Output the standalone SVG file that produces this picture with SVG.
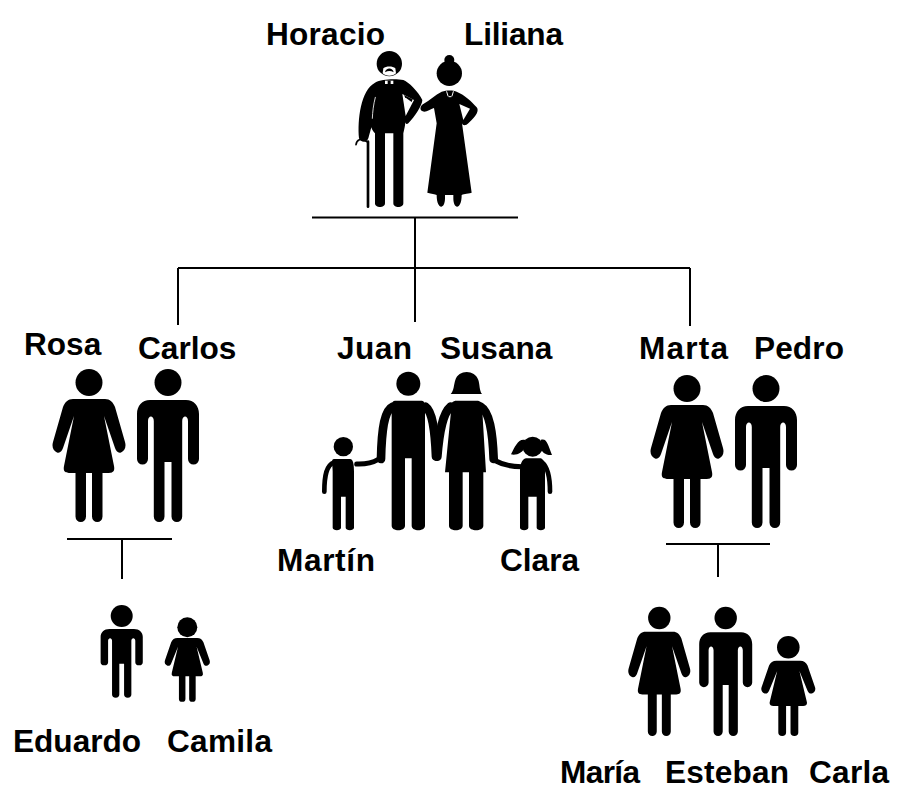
<svg xmlns="http://www.w3.org/2000/svg" width="904" height="802" viewBox="0 0 904 802">
<style>
text{font-family:"Liberation Sans",Arial,sans-serif;font-weight:700;font-size:31.6px;fill:#000}
.c{stroke:#000;stroke-width:2;fill:none}
.a{fill:none;stroke:#000;stroke-linecap:round;stroke-linejoin:round}
.w{fill:none;stroke:#fff;stroke-linecap:round}
</style>
<defs>
<path id="woman" d="M-16,30H16C21,30 24,33 26,38L36,73C37.5,78 35.5,82 32,83.5C29,84.5 27,82 26,79L15,47L25,97C26,102 24,104 20,104H13.500V147.500A5.250,5.500 0 0 1 3,147.500V104H-3V147.500A5.250,5.500 0 0 1 -13.500,147.500V104H-20C-24,104 -26,102 -25,97L-15,47L-26,79C-27,82 -29,84.500 -32,83.500C-35.500,82 -37.500,78 -36,73L-26,38C-24,33 -21,30 -16,30Z"/>
<path id="man" d="M-18,31H18C26,31 31,37 31,45V90A5.500,5.500 0 0 1 20,90V52C20,46 14.200,46 14.200,52V147.500A5.350,5.500 0 0 1 3.500,147.500V93H-3.500V147.500A5.350,5.500 0 0 1 -14.200,147.500V52C-14.200,46 -20,46 -20,52V90A5.500,5.500 0 0 1 -31,90V45C-31,37 -26,31 -18,31Z"/>
</defs>
<g id="connectors" class="c">
<path d="M312,217.500H518M415,217.500V322M178,268H690M178,268V325M690,268V326M67,539H172M122,539V579M666,544H770M718,544V577"/>
</g>
<g id="horacio">
<text x="266" y="45" textLength="119">Horacio</text>
<g transform="translate(340,40) scale(.33333)">
<circle cx="148" cy="71" r="38"/>
<path d="M130,85C138,78 158,78 166,85L168,100C160,110 136,110 128,100Z" fill="#fff"/>
<path d="M135,97C138,82 158,82 161,97C152,92 144,92 135,97Z"/>
<path d="M105,128C125,116 170,116 190,120C205,125 235,155 247,180C247,195 225,230 205,250C199,254 195,250 195,245C197,255 192,268 190,280V490C190,505 160,505 160,490V280H135V490C135,505 105,505 105,490V280C100,275 96,270 94,262L85,295C80,310 62,308 57,295C52,240 62,150 105,128Z"/>
<path d="M106,172C100,195 98,215 97,235" class="w" stroke-width="2.500"/>
<path d="M187,162L222,180L197,228Z" fill="#fff"/>
<path d="M192,165L218,178L215,186L195,172Z"/>
<path d="M135,122H160V132H135Z" fill="#fff"/>
<path d="M143,122V132H152V122Z"/>
<path d="M84,500V305" class="a" stroke-width="8"/>
<path d="M80,305C62,292 50,300 48,314" class="a" stroke-width="5"/>
</g>
</g>
<g id="liliana">
<text x="464" y="45" textLength="99">Liliana</text>
<g transform="translate(340,40) scale(.33333)">
<circle cx="328" cy="100" r="38"/>
<circle cx="328" cy="60" r="15"/>
<path d="M305,155C320,150 340,150 350,155C375,165 395,185 410,202C418,212 410,228 385,250C378,258 368,258 366,250L395,458C380,462 368,462 365,465C365,510 340,510 340,475V465H315V475C315,510 290,510 290,465C285,462 275,462 262,458L290,250L282,204C270,208 258,218 248,214C238,210 240,198 250,192C270,180 285,165 305,155Z"/>
<path d="M320,155L324,168M340,155L336,168M327,170H333" class="w" stroke-width="3"/>
<path d="M358,192L390,206L370,240Z" fill="#fff"/>
</g>
</g>
<g id="rosa"><text x="24" y="355">Rosa</text><circle cx="89" cy="382.500" r="13.500"/><use href="#woman" x="89" y="369"/></g>
<g id="carlos"><text x="138" y="359">Carlos</text><circle cx="168" cy="382.500" r="13.500"/><use href="#man" x="168" y="369"/></g>
<g id="juan-family" transform="translate(310,365) scale(.33333)">
<circle cx="295" cy="56" r="36"/>
<path d="M255,107H335C345,107 345,120 345,140V482C345,500 305,500 305,482V280H285V482C285,500 245,500 245,482V140C245,120 245,107 255,107Z"/>
<path d="M248,125C225,135 215,185 213,282" class="a" stroke-width="26"/>
<path d="M205,283C185,295 165,298 140,297" class="a" stroke-width="15"/>
<path d="M346,125C368,140 375,200 378,275" class="a" stroke-width="26"/>
<path d="M422,125C398,145 388,200 382,275" class="a" stroke-width="26"/>
<path d="M422,87C432,78 432,55 436,45C445,13 495,13 505,45C509,55 508,78 516,87Z"/>
<path d="M440,107H500C515,107 520,118 517,140L528,322H520V482C520,500 477,500 477,482V322H458V482C458,500 417,500 417,482V322H405L423,140C420,118 425,107 440,107Z"/>
<path d="M512,125C538,140 548,200 551,282" class="a" stroke-width="26"/>
<path d="M558,288C575,298 600,305 635,305" class="a" stroke-width="15"/>
<circle cx="100" cy="245" r="29"/>
<path d="M72,282H120C130,282 132,300 132,320V488C132,498 107,498 107,488V395H93V488C93,498 68,498 68,488V320C68,300 62,282 72,282Z"/>
<path d="M72,292C50,300 43,330 43,380" class="a" stroke-width="14"/>
<circle cx="668" cy="245" r="30"/>
<path d="M645,225C625,220 615,245 603,268C620,272 640,262 645,245ZM692,225C712,218 715,245 726,270C708,272 695,262 690,245Z"/>
<path d="M648,280H692C702,282 705,300 705,320V488C705,498 680,498 680,488V395H655V488C655,498 630,498 630,488V320C630,300 635,282 648,280Z"/>
<path d="M696,292C712,305 720,340 720,380" class="a" stroke-width="14"/>
</g>
<text x="337" y="359" id="juan" textLength="75">Juan</text>
<text x="440" y="359" id="susana">Susana</text>
<text x="277" y="571" id="martin" textLength="98">Martín</text>
<text x="500" y="571" id="clara">Clara</text>
<g id="marta"><text x="639" y="359" textLength="89">Marta</text><circle cx="687" cy="388.500" r="13.500"/><use href="#woman" x="687" y="375"/></g>
<g id="pedro"><text x="754" y="359" textLength="90">Pedro</text><circle cx="766" cy="388.500" r="13.500"/><use href="#man" x="766" y="375"/></g>
<g id="eduardo"><text x="13" y="752">Eduardo</text><circle cx="121.700" cy="616" r="11"/><use href="#man" transform="translate(121.700,611.500) scale(.68,.563)"/></g>
<g id="camila"><text x="167" y="752" textLength="105">Camila</text><circle cx="187.300" cy="627.300" r="10"/><use href="#woman" transform="translate(187.300,622.500) scale(.62,.518)"/></g>
<g id="maria"><text x="560" y="783" textLength="80">María</text><circle cx="659.300" cy="618" r="11.200"/><use href="#woman" transform="translate(659.300,606.300) scale(.85,.848)"/></g>
<g id="esteban"><text x="665" y="783" textLength="124">Esteban</text><circle cx="725.700" cy="618" r="11.200"/><use href="#man" transform="translate(725.700,606) scale(.855,.85)"/></g>
<g id="carla"><text x="809" y="783" textLength="80">Carla</text><circle cx="788.300" cy="647.300" r="11.300"/><use href="#woman" transform="translate(788.300,642.300) scale(.74,.612)"/></g>
</svg>
